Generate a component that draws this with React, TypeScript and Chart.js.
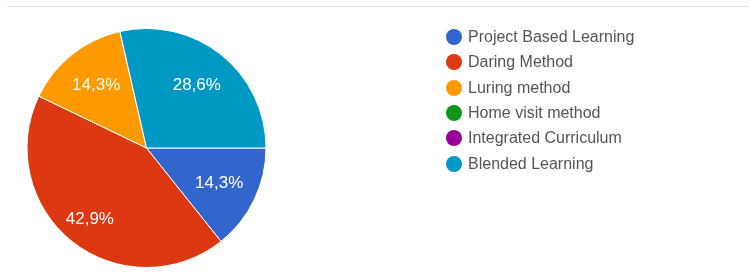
import React, { useEffect, useRef } from "react";
import { Chart, registerables } from "chart.js";

Chart.register(...registerables);

const categories = [
  "Project Based Learning",
  "Daring Method",
  "Luring method",
  "Home visit method",
  "Integrated Curriculum",
  "Blended Learning",
];
const responses = [1, 3, 1, 0, 0, 2];
const sliceColors = ["#3366cc", "#dc3912", "#ff9900", "#109618", "#990099", "#0099c6"];

const FONT = '"Liberation Sans", Arial, sans-serif';

const labelPlugin = {
  id: "sliceLabels",
  afterDatasetsDraw(chart: any) {
    const ctx = chart.ctx;
    const meta = chart.getDatasetMeta(0);
    const data = chart.data.datasets[0].data as number[];
    const total = data.reduce((a, b) => a + b, 0);
    ctx.save();
    ctx.fillStyle = "#ffffff";
    ctx.font = `17px ${FONT}`;
    ctx.textAlign = "center";
    ctx.textBaseline = "middle";
    meta.data.forEach((arc: any, i: number) => {
      const v = data[i];
      if (!v) return;
      const { x, y, startAngle, endAngle, outerRadius } = arc.getProps(
        ["x", "y", "startAngle", "endAngle", "outerRadius"],
        true
      );
      const mid = (startAngle + endAngle) / 2;
      const frac = v / total;
      const r = outerRadius * (frac > 0.4 ? 0.76 : 0.675);
      const txt = (frac * 100).toFixed(1).replace(".", ",") + "%";
      ctx.fillText(txt, x + Math.cos(mid) * r, y + Math.sin(mid) * r);
    });
    ctx.restore();
  },
};

export default function App() {
  const ref = useRef<HTMLCanvasElement | null>(null);
  useEffect(() => {
    if (!ref.current) return;
    const chart = new Chart(ref.current, {
      type: "pie",
      data: {
        labels: categories,
        datasets: [
          {
            data: responses,
            backgroundColor: sliceColors,
            borderColor: "#ffffff",
            borderWidth: 1,
          },
        ],
      },
      options: {
        animation: false,
        responsive: false,
        maintainAspectRatio: false,
        rotation: 90,
        layout: { padding: { left: 26, top: 28, right: 482, bottom: 5 } },
        plugins: {
          legend: { display: false },
          tooltip: { enabled: false },
        },
      },
      plugins: [labelPlugin],
    });
    return () => chart.destroy();
  }, []);

  return (
    <div
      style={{
        position: "fixed",
        left: 0,
        top: 0,
        width: 749,
        height: 273,
        background: "#ffffff",
        overflow: "hidden",
        fontFamily: FONT,
      }}
    >
      <div
        style={{
          position: "absolute",
          left: 7,
          right: 0,
          top: 6,
          height: 1,
          background: "#e4e4e4",
        }}
      />
      <canvas
        ref={ref}
        width={749}
        height={273}
        style={{ position: "absolute", left: 0, top: 0, width: 749, height: 273 }}
      />
      {categories.map((c, i) => (
        <div
          key={c}
          style={{
            position: "absolute",
            left: 446,
            top: 37 + i * 25.3 - 10,
            height: 20,
            display: "flex",
            alignItems: "center",
            whiteSpace: "nowrap",
          }}
        >
          <span
            style={{
              display: "inline-block",
              width: 16,
              height: 16,
              borderRadius: "50%",
              background: sliceColors[i],
              marginRight: 6,
            }}
          />
          <span style={{ fontSize: 16, color: "#555555" }}>{c}</span>
        </div>
      ))}
    </div>
  );
}
